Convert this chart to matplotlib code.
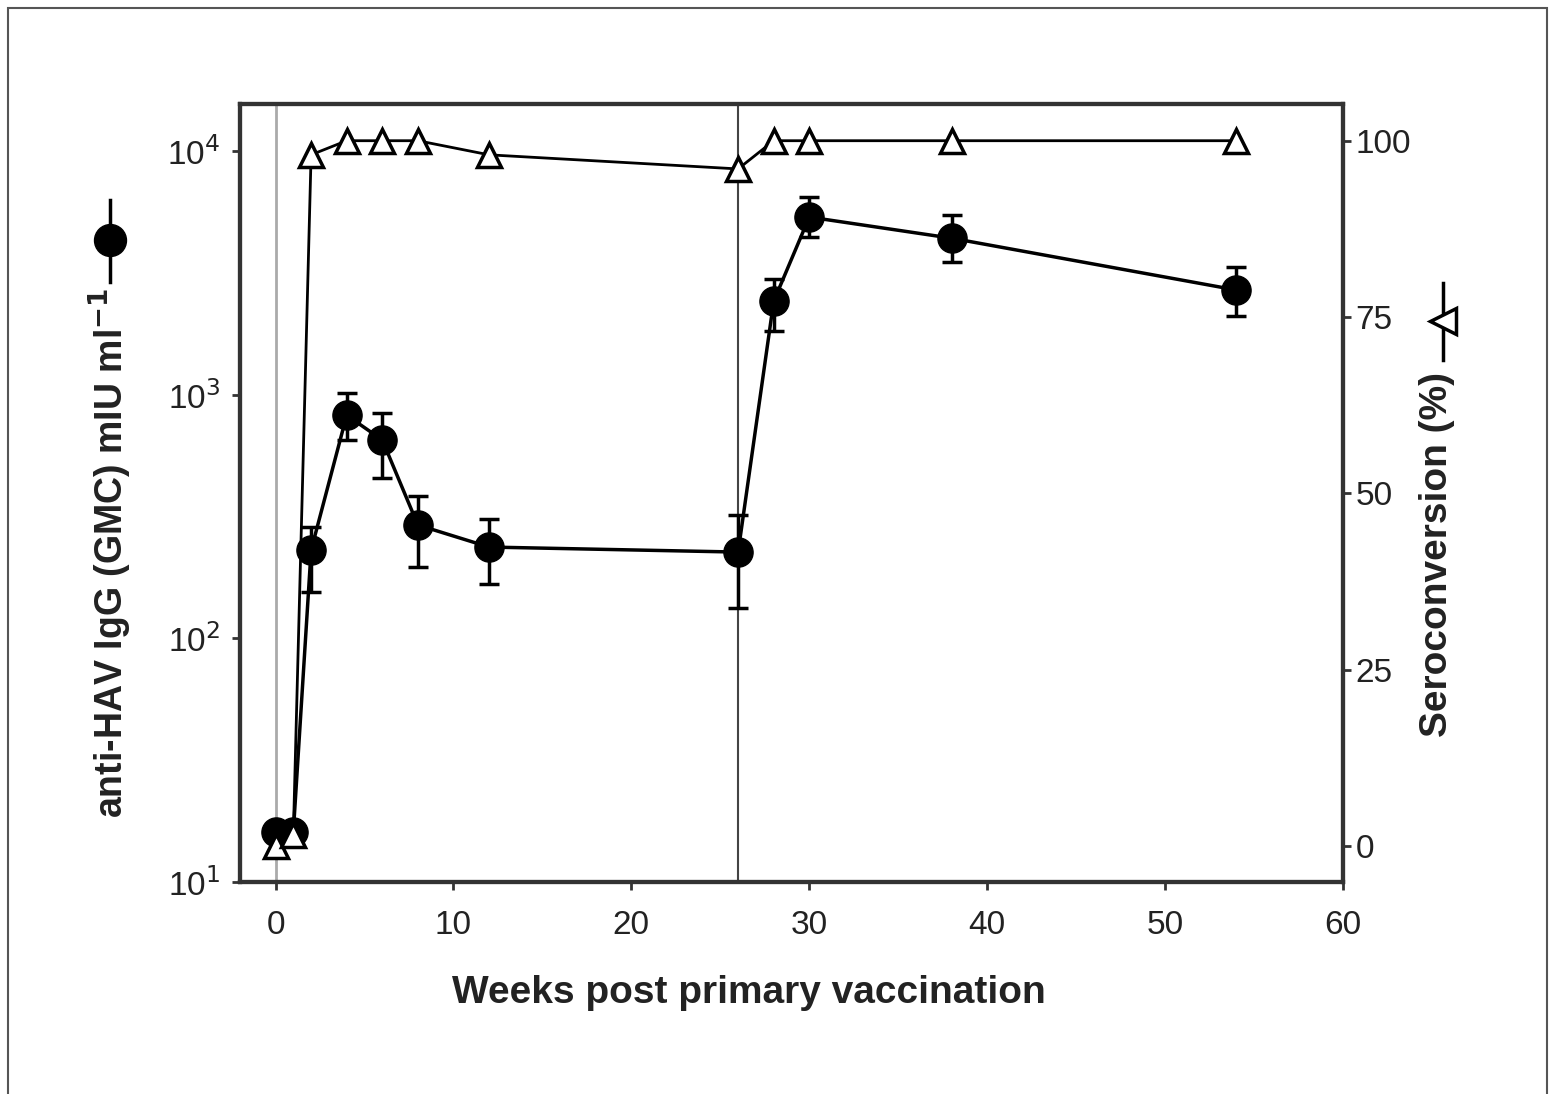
import matplotlib.pyplot as plt
import matplotlib.patches as mpatches
from matplotlib.lines import Line2D
import numpy as np

plt.rcParams['font.family'] = ['Liberation Sans', 'DejaVu Sans']

# anti-HAV IgG geometric mean concentration (mIU/ml) with error limits
weeks_gmc = [0, 1, 2, 4, 6, 8, 12, 26, 28, 30, 38, 54]
gmc = [16, 16, 230, 824, 652, 292, 237, 226, 2420, 5360, 4390, 2690]
gmc_upper = [16, 16, 286, 1016, 840, 384, 309, 321, 2980, 6475, 5460, 3340]
gmc_lower = [16, 16, 155, 652, 455, 196, 167, 133, 1824, 4437, 3500, 2105]

# seroconversion rate (%)
weeks_sero = [0, 1, 2, 4, 6, 8, 12, 26, 28, 30, 38, 54]
sero = [0, 1.5, 98, 100, 100, 100, 98, 96, 100, 100, 100, 100]

xticks = [0, 10, 20, 30, 40, 50, 60]
yticks_left = [10, 100, 1000, 10000]
yticks_right = [0, 25, 50, 75, 100]

fig = plt.figure(figsize=(15.55, 10.94), dpi=100)
ax = fig.add_axes([0.1543, 0.1938, 0.7094, 0.7111])

# outer frame
fig.patches.append(mpatches.Rectangle((0.005, -0.02), 0.99, 1.013, transform=fig.transFigure,
                                      fill=False, edgecolor='#555555', linewidth=1.5))

ax.axvline(0, color='#aaaaaa', lw=2, zorder=1)
ax.axvline(26, color='#444444', lw=1.5, zorder=1)

g = np.array(gmc)
yerr = [g - np.array(gmc_lower), np.array(gmc_upper) - g]
ax.errorbar(weeks_gmc, gmc, yerr=yerr, color='black', lw=2.5, marker='o', markersize=21,
            ecolor='black', elinewidth=2.5, capsize=7, capthick=2.5, zorder=3)
ax.set_yscale('log')
ax.set_ylim(10, 15600)
ax.set_xlim(-2, 60)
ax.set_xticks(xticks)
ax.set_yticks(yticks_left)
ax.set_yticklabels([r'10$^{1}$', r'10$^{2}$', r'10$^{3}$', r'10$^{4}$'])
ax.minorticks_off()

ax2 = ax.twinx()
ax2.plot(weeks_sero, sero, color='black', lw=2, marker='^', markersize=17,
         markerfacecolor='white', markeredgecolor='black', markeredgewidth=2.5, zorder=4)
ax2.set_ylim(-5.1, 105.2)
ax2.set_yticks(yticks_right)
ax2.minorticks_off()

for a in (ax, ax2):
    for s in a.spines.values():
        s.set_linewidth(3)
        s.set_color('#333333')
    a.tick_params(labelsize=24, width=2, length=6, color='#333333', labelcolor='#222222')
ax.tick_params(axis='x', pad=14)
ax.tick_params(axis='y', pad=8)
ax2.tick_params(axis='y', pad=3)

ax.set_xlabel('Weeks post primary vaccination', fontsize=28, fontweight='bold',
              color='#222222')
ax.xaxis.set_label_coords(0.461, -0.12)

fig.text(0.0705, 0.495, 'anti-HAV IgG (GMC) mIU ml$^{\\mathbf{-1}}$', rotation=90, fontsize=27,
         fontweight='bold', color='#222222', ha='center', va='center')
fig.text(0.924, 0.493, 'Seroconversion (%)', rotation=90, fontsize=28,
         fontweight='bold', color='#222222', ha='center', va='center')

# symbol keys beside the axis titles
fig.add_artist(Line2D([0.0707, 0.0707], [1 - 282 / 1094, 1 - 200 / 1094], transform=fig.transFigure,
                      color='black', lw=2.5))
fig.add_artist(Line2D([0.0707], [1 - 240 / 1094], transform=fig.transFigure, marker='o',
                      markersize=23, color='black'))
fig.add_artist(Line2D([0.928, 0.928], [1 - 360 / 1094, 1 - 283 / 1094], transform=fig.transFigure,
                      color='black', lw=2.5))
fig.add_artist(Line2D([0.928], [1 - 321 / 1094], transform=fig.transFigure, marker='<',
                      markersize=19, markerfacecolor='white', markeredgecolor='black',
                      markeredgewidth=2.5))

fig.savefig('out.png', dpi=100)
